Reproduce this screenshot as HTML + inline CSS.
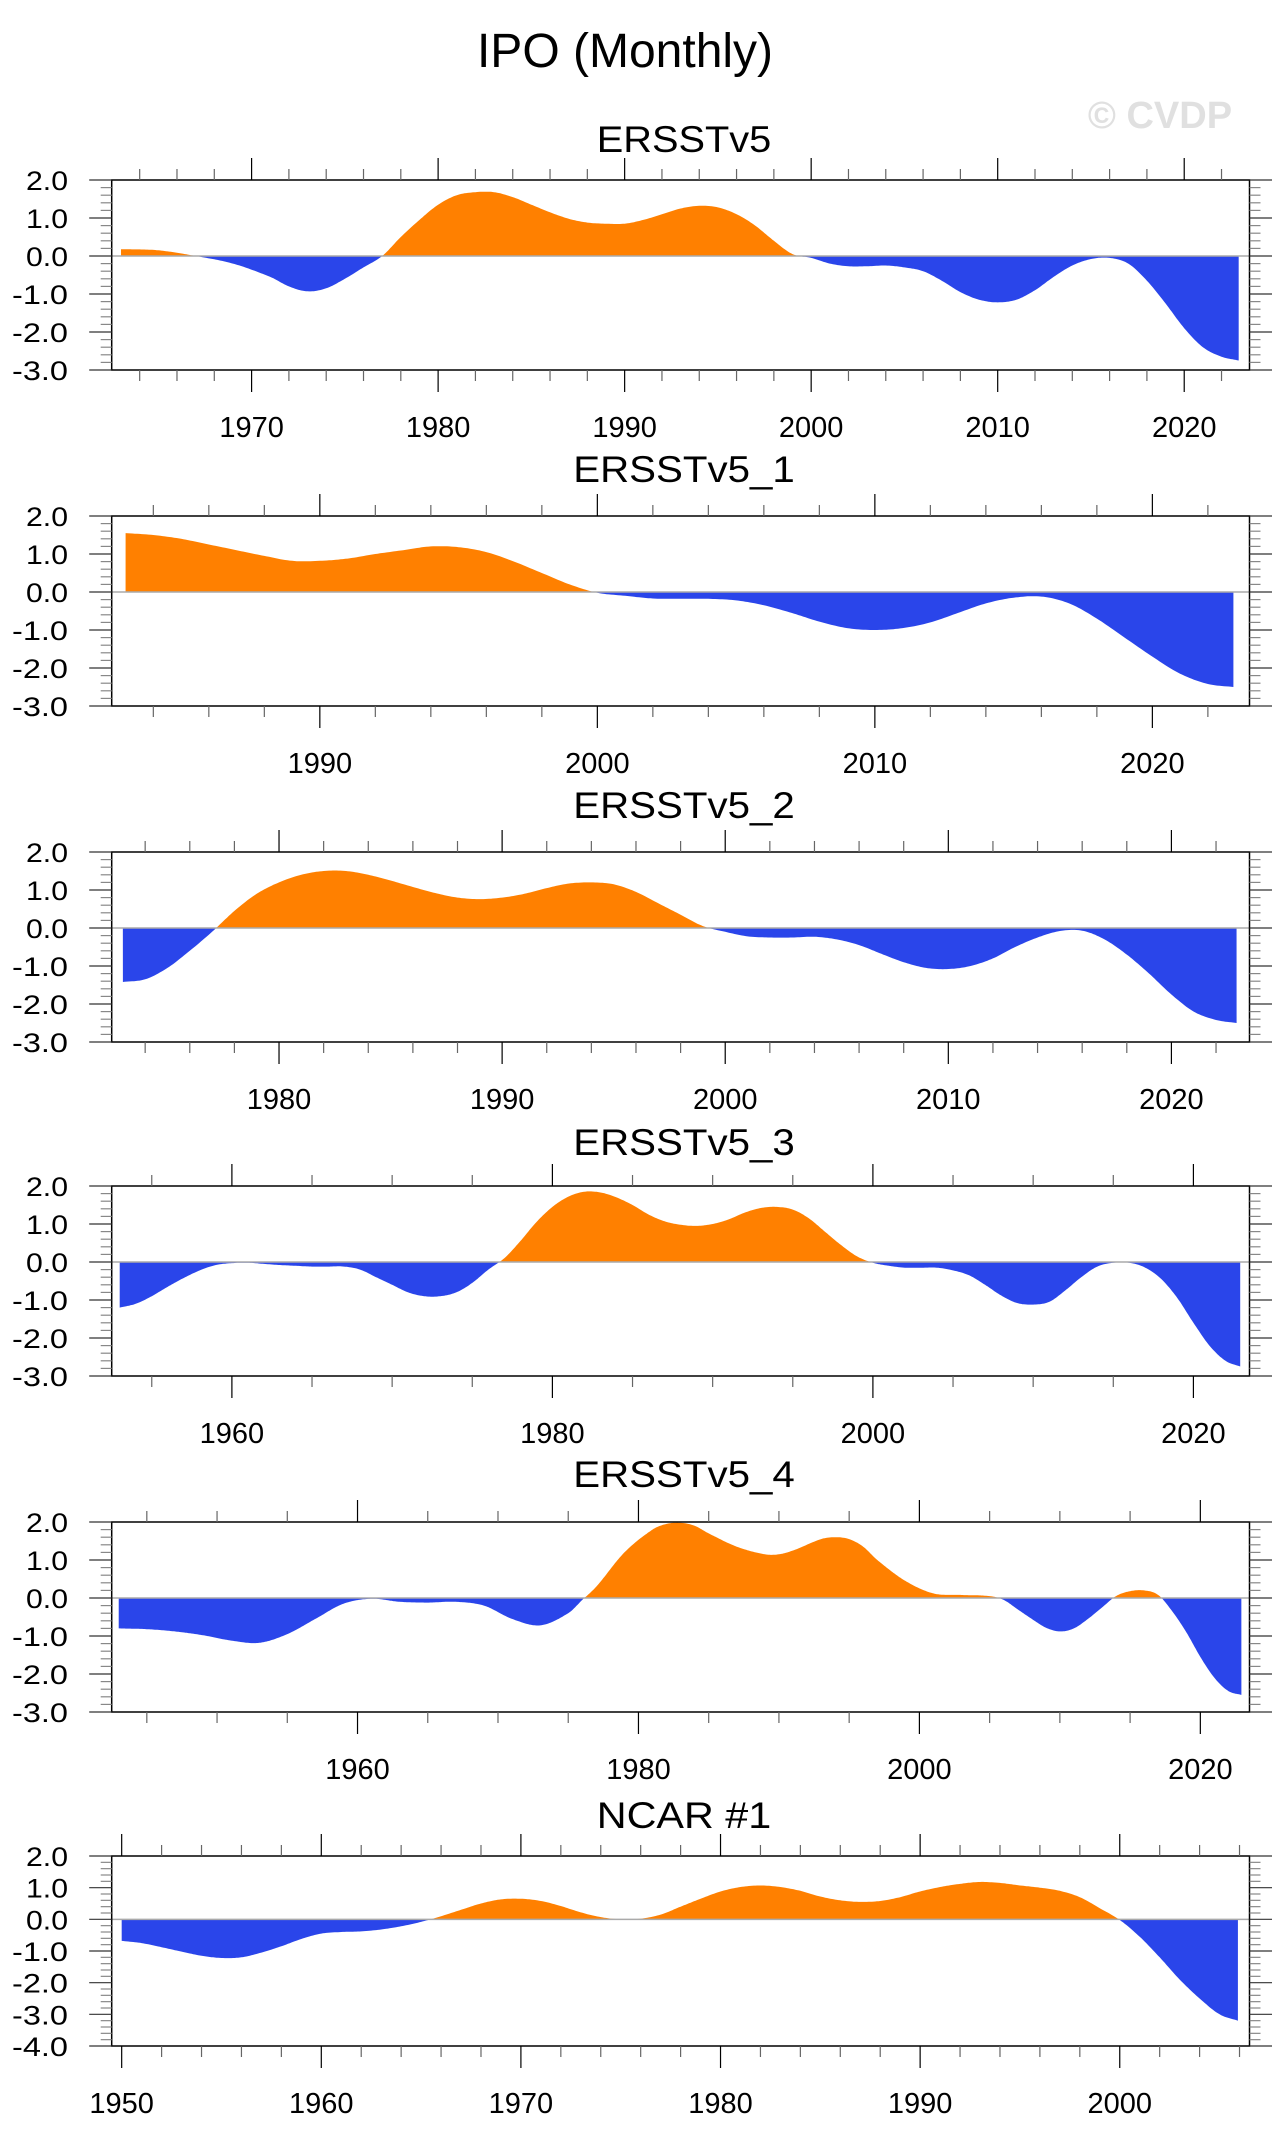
<!DOCTYPE html>
<html><head><meta charset="utf-8"><style>
html,body{margin:0;padding:0;background:#fff;}
svg{display:block;font-family:"Liberation Sans",sans-serif;}
</style></head><body>
<svg id="fig" width="1288" height="2144" viewBox="0 0 1288 2144">
<text x="625" y="67" font-size="48" text-anchor="middle">IPO (Monthly)</text>
<text x="1160" y="128" font-size="38" font-weight="bold" fill="#e0e0e0" text-anchor="middle">© CVDP</text>
</svg>
<script>
const titles = ["ERSSTv5","ERSSTv5_1","ERSSTv5_2","ERSSTv5_3","ERSSTv5_4","NCAR #1"];
const startYears = [1963,1983,1973,1953,1943,1950];
const lastYears = [2022,2022,2022,2022,2022,2005];
const yMins = [-3,-3,-3,-3,-3,-4];
const yMax = 2;
const xTickLabels = [[1970,1980,1990,2000,2010,2020],[1990,2000,2010,2020],[1980,1990,2000,2010,2020],[1960,1980,2000,2020],[1960,1980,2000,2020],[1950,1960,1970,1980,1990,2000]];
const minorSteps = [2,2,2,5,5,2];
const majorSteps = [10,10,10,20,20,10];
const yTickLabels = [["2.0","1.0","0.0","-1.0","-2.0","-3.0"],["2.0","1.0","0.0","-1.0","-2.0","-3.0"],["2.0","1.0","0.0","-1.0","-2.0","-3.0"],["2.0","1.0","0.0","-1.0","-2.0","-3.0"],["2.0","1.0","0.0","-1.0","-2.0","-3.0"],["2.0","1.0","0.0","-1.0","-2.0","-3.0","-4.0"]];

const years0 = [1963,1965,1967,1969,1971,1972,1973,1974,1975,1976,1977,1978,1979,1980,1981,1982,1983,1984,1985,1986,1987,1988,1989,1990,1991,1992,1993,1994,1995,1996,1997,1998,1999,2000,2001,2002,2003,2004,2005,2006,2007,2008,2009,2010,2011,2012,2013,2014,2015,2016,2017,2018,2019,2020,2021,2022,2022.92];
const ipo0 = [0.18,0.15,0.0,-0.2,-0.55,-0.8,-0.93,-0.85,-0.6,-0.3,0.0,0.5,0.95,1.35,1.6,1.68,1.68,1.55,1.35,1.15,0.98,0.88,0.85,0.85,0.95,1.1,1.25,1.32,1.28,1.1,0.8,0.4,0.05,-0.05,-0.2,-0.27,-0.27,-0.25,-0.3,-0.4,-0.65,-0.95,-1.15,-1.22,-1.15,-0.9,-0.55,-0.25,-0.08,-0.05,-0.2,-0.65,-1.25,-1.9,-2.4,-2.65,-2.75];
const years1 = [1983,1984,1985,1986,1987,1988,1989,1990,1991,1992,1993,1994,1995,1996,1997,1998,1999,2000,2001,2002,2003,2004,2005,2006,2007,2008,2009,2010,2011,2012,2013,2014,2015,2016,2017,2018,2019,2020,2021,2022,2022.92];
const ipo1 = [1.55,1.5,1.4,1.25,1.1,0.95,0.82,0.82,0.88,1.0,1.1,1.2,1.18,1.05,0.8,0.5,0.2,-0.02,-0.1,-0.17,-0.18,-0.18,-0.22,-0.35,-0.55,-0.78,-0.95,-1.0,-0.95,-0.8,-0.55,-0.3,-0.15,-0.12,-0.3,-0.7,-1.2,-1.7,-2.15,-2.42,-2.5];
const years2 = [1973,1974,1975,1976,1977,1978,1979,1980,1981,1982,1983,1984,1985,1986,1987,1988,1989,1990,1991,1992,1993,1994,1995,1996,1997,1998,1999,2000,2001,2002,2003,2004,2005,2006,2007,2008,2009,2010,2011,2012,2013,2014,2015,2016,2017,2018,2019,2020,2021,2022,2022.92];
const ipo2 = [-1.42,-1.35,-1.05,-0.6,-0.1,0.45,0.9,1.2,1.4,1.5,1.5,1.4,1.25,1.08,0.92,0.8,0.76,0.8,0.9,1.05,1.17,1.2,1.15,0.95,0.65,0.35,0.05,-0.1,-0.22,-0.25,-0.25,-0.23,-0.3,-0.45,-0.68,-0.9,-1.05,-1.08,-1.0,-0.8,-0.5,-0.25,-0.08,-0.07,-0.3,-0.7,-1.2,-1.75,-2.2,-2.42,-2.5];
const years3 = [1953,1954,1955,1956,1957,1958,1959,1960,1961,1962,1963,1964,1965,1966,1967,1968,1969,1970,1971,1972,1973,1974,1975,1976,1977,1978,1979,1980,1981,1982,1983,1984,1985,1986,1987,1988,1989,1990,1991,1992,1993,1994,1995,1996,1997,1998,1999,2000,2001,2002,2003,2004,2005,2006,2007,2008,2009,2010,2011,2012,2013,2014,2015,2016,2017,2018,2019,2020,2021,2022,2022.92];
const ipo3 = [-1.2,-1.1,-0.9,-0.65,-0.42,-0.22,-0.08,-0.03,-0.02,-0.05,-0.08,-0.1,-0.12,-0.12,-0.12,-0.2,-0.4,-0.6,-0.8,-0.9,-0.9,-0.8,-0.55,-0.2,0.1,0.55,1.05,1.45,1.72,1.85,1.83,1.7,1.5,1.25,1.07,0.98,0.95,1.0,1.12,1.3,1.42,1.45,1.38,1.15,0.8,0.45,0.15,-0.02,-0.1,-0.15,-0.15,-0.15,-0.22,-0.35,-0.6,-0.88,-1.08,-1.12,-1.05,-0.75,-0.4,-0.12,-0.02,-0.02,-0.15,-0.45,-0.95,-1.6,-2.2,-2.6,-2.75];
const years4 = [1943,1945,1947,1949,1951,1953,1955,1957,1959,1961,1963,1965,1967,1969,1971,1973,1975,1976,1977,1979,1981,1982,1983,1984,1985,1987,1989,1990,1991,1993,1994,1995,1996,1997,1999,2001,2003,2005,2006,2007,2008,2009,2010,2011,2012,2013,2014,2015,2016,2017,2018,2019,2020,2021,2022,2022.92];
const ipo4 = [-0.8,-0.82,-0.88,-0.98,-1.12,-1.18,-0.95,-0.55,-0.15,-0.02,-0.1,-0.12,-0.1,-0.2,-0.55,-0.72,-0.4,-0.05,0.3,1.2,1.8,1.95,1.98,1.9,1.7,1.35,1.15,1.15,1.25,1.55,1.6,1.55,1.35,1.0,0.45,0.12,0.08,0.05,-0.05,-0.3,-0.55,-0.78,-0.88,-0.8,-0.55,-0.25,0.05,0.18,0.2,0.08,-0.35,-0.9,-1.55,-2.1,-2.45,-2.55];
const years5 = [1950,1951,1952,1953,1954,1955,1956,1957,1958,1959,1960,1961,1962,1963,1964,1965,1966,1967,1968,1969,1970,1971,1972,1973,1974,1975,1976,1977,1978,1979,1980,1981,1982,1983,1984,1985,1986,1987,1988,1989,1990,1991,1992,1993,1994,1995,1996,1997,1998,1999,2000,2001,2002,2003,2004,2005,2005.92];
const ipo5 = [-0.68,-0.75,-0.88,-1.02,-1.15,-1.22,-1.2,-1.05,-0.85,-0.62,-0.45,-0.4,-0.38,-0.32,-0.22,-0.08,0.1,0.3,0.5,0.63,0.65,0.58,0.42,0.22,0.07,0.0,0.02,0.15,0.4,0.65,0.88,1.02,1.07,1.02,0.9,0.72,0.6,0.55,0.58,0.7,0.88,1.02,1.12,1.18,1.15,1.07,1.0,0.9,0.7,0.35,-0.02,-0.55,-1.2,-1.9,-2.5,-3.0,-3.2];
const seriesYears = [years0,years1,years2,years3,years4,years5];
const seriesValues = [ipo0,ipo1,ipo2,ipo3,ipo4,ipo5];

const NS = "http://www.w3.org/2000/svg";
const svg = document.getElementById("fig");
const L = 111.7, R = 1249.5, H = 190;
const tops = [180,516,852,1186,1522,1856];
const subOff = [28,34,34,31,35,28];
function mk(tag, attrs, parent) {
  const e = document.createElementNS(NS, tag);
  for (const k in attrs) e.setAttribute(k, attrs[k]);
  (parent || svg).appendChild(e);
  return e;
}
function interp(xs, ys, n) {
  // cubic Hermite in x with finite-difference tangents (drawing only)
  const N = xs.length, m = [];
  for (let i = 0; i < N; i++) {
    const a = Math.max(i-1,0), b = Math.min(i+1,N-1);
    m.push((ys[b]-ys[a])/(xs[b]-xs[a]));
  }
  const out = [];
  for (let i = 0; i < N - 1; i++) {
    const h = xs[i+1]-xs[i];
    const k = Math.max(2, Math.round(n*h));
    for (let s = 0; s < k; s++) {
      const t = s / k, t2 = t*t, t3 = t2*t;
      const y = (2*t3-3*t2+1)*ys[i] + (t3-2*t2+t)*h*m[i] + (-2*t3+3*t2)*ys[i+1] + (t3-t2)*h*m[i+1];
      out.push([xs[i]+t*h, y]);
    }
  }
  out.push([xs[N-1], ys[N-1]]);
  return out;
}
for (let p = 0; p < 6; p++) {
  const top = tops[p], bot = top + H, ymin = yMins[p];
  const xmin = startYears[p] - 0.5, xmax = lastYears[p] + 1.5;
  const xs = v => L + (v - xmin) / (xmax - xmin) * (R - L);
  const ys = v => top + (yMax - v) / (yMax - ymin) * H;
  const g = mk("g", {});
  
  
  const st = mk("text", {x:684, y:top - subOff[p], "font-size":37, "text-anchor":"middle", textLength: 10 + titles[p].length*23.5, lengthAdjust:"spacingAndGlyphs"}, g);
  st.textContent = titles[p];
  
  
  const pts = interp(seriesYears[p], seriesValues[p], 12);
  let pos = "M" + xs(pts[0][0]) + "," + ys(0), neg = pos;
  pts.forEach(q => { pos += "L" + xs(q[0]).toFixed(1) + "," + ys(Math.max(q[1],0)).toFixed(1); neg += "L" + xs(q[0]).toFixed(1) + "," + ys(Math.min(q[1],0)).toFixed(1); });
  pos += "L" + xs(pts[pts.length-1][0]) + "," + ys(0) + "Z";
  neg += "L" + xs(pts[pts.length-1][0]) + "," + ys(0) + "Z";
  const pa = mk("path", {d:pos, fill:"#ff8000"}, g);
  
  
  const na = mk("path", {d:neg, fill:"#2a45ea"}, g);
  
  
  const zl = mk("line", {x1:L, x2:R, y1:ys(0), y2:ys(0), stroke:"#aaaaaa", "stroke-width":1.5}, g);
  
  
  const fr = mk("rect", {x:L, y:top, width:R-L, height:H, fill:"none", stroke:"#000", "stroke-width":1.5}, g);
  
  
  for (let k = 0; k <= (yMax - ymin) * 5; k++) {
    const v = yMax - k * 0.2, yy = ys(v), major = k % 5 === 0;
    const len = major ? 22.5 : 11;
    mk("line", {x1:L-len, x2:L, y1:yy, y2:yy, stroke: major ? "#333" : "#888", "stroke-width":1.2}, g);
    mk("line", {x1:R, x2:R+len, y1:yy, y2:yy, stroke: major ? "#333" : "#888", "stroke-width":1.2}, g);
  }
  yTickLabels[p].forEach((lab, i) => {
    const t = mk("text", {x:68, y:ys(yMax - i) + 10, "font-size":27, "text-anchor":"end", textLength: lab.length*14, lengthAdjust:"spacingAndGlyphs"}, g);
    t.textContent = lab;
    
    
  });
  for (let yr = Math.ceil(xmin / minorSteps[p]) * minorSteps[p]; yr <= xmax; yr += minorSteps[p]) {
    const xx = xs(yr), major = yr % majorSteps[p] === 0;
    const len = major ? 22 : 11;
    mk("line", {x1:xx, x2:xx, y1:top-len, y2:top, stroke: major ? "#000" : "#666", "stroke-width":1.2}, g);
    mk("line", {x1:xx, x2:xx, y1:bot, y2:bot+len, stroke: major ? "#000" : "#666", "stroke-width":1.2}, g);
  }
  xTickLabels[p].forEach(yr => {
    const t = mk("text", {x:xs(yr), y:bot + 67, "font-size":29, "text-anchor":"middle"}, g);
    t.textContent = String(yr);
    
    
  });
}
</script>
</body></html>
